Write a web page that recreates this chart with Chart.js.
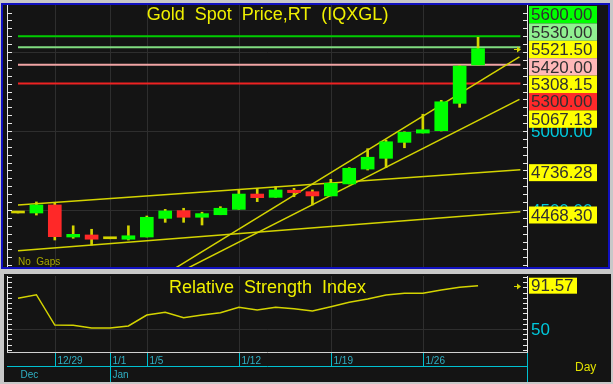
<!DOCTYPE html>
<html>
<head>
<meta charset="utf-8">
<script src="https://cdn.jsdelivr.net/npm/chart.js@4.4.1/dist/chart.umd.min.js"></script>
<style>
  html, body { margin: 0; padding: 0; background: #c8c8c8; }
  #caja { position: relative; width: 613px; height: 384px; overflow: hidden; }
  canvas { position: absolute; left: 0; }
  #precio { top: 0; }
  #rsi { top: 270px; }
</style>
</head>
<body>
<div id="caja">
  <canvas id="precio" width="613" height="270"></canvas>
  <canvas id="rsi" width="613" height="114"></canvas>
</div>
<script>
// datos
const fechas   = ['12/25','12/26','12/29','12/30','12/31','1/1','1/2','1/5','1/6','1/7','1/8','1/9','1/12','1/13','1/14','1/15','1/16','1/19','1/20','1/21','1/22','1/23','1/26','1/27','1/28','1/29'];
const apertura = [4481,4481,4532,4329,4342,4318,4315,4329,4447,4496,4454,4470,4504,4601,4580,4625,4616,4589,4665,4759,4827,4928,4987,5002,5175,5418];
const maximo   = [4481,4551,4544,4400,4378,4318,4400,4462,4504,4511,4486,4521,4630,4637,4648,4637,4627,4694,4768,4888,4943,4995,5106,5194,5415,5593];
const minimo   = [4481,4468,4310,4321,4278,4318,4310,4329,4422,4422,4405,4470,4504,4553,4580,4584,4532,4589,4665,4753,4768,4894,4987,5000,5150,5418];
const cierre   = [4481,4532,4331,4346,4315,4318,4337,4454,4494,4454,4477,4511,4601,4578,4627,4610,4589,4669,4764,4834,4932,4992,5008,5185,5411,5521.5];
const rsiValores = [79.5,82.9,53.8,53.6,51.0,51.0,52.9,63.4,66.0,60.8,63.4,65.6,70.8,68.2,70.8,69.5,67.3,71.4,75.6,78.8,82.6,84.3,84.3,87.4,90.0,91.57];

const fechasEje = ['12/29','1/1','1/5','1/12','1/19','1/26'];
const meses = [['Dec','12/25'], ['Jan','1/1']];
const preciosEje = [5500, 5000, 4500];
const etiquetasPrecioEje = ['5500.00','5000.00','4500.00'];

const niveles = [5600, 5530, 5420, 5300];
const tendencias = [
  [[0, 4532], [27.3, 4755]],
  [[0, 4242], [27.3, 4489]],
  [[8.10, 4100], [27.25, 5469]],
  [[8.68, 4100], [27.25, 5200]]
];
const etiquetasArriba = ['5600.00','5530.00','5521.50','5420.00','5308.15','5300.00','5067.13'];
const valoresLinea = [4736.28, 4468.30];
const rsiEje = [50];

// estilos
const coloresNivel = ['#00cc00','#80dc80','#f0a4a4','#ee2222'];
const coloresArriba = ['#00ff00','#90f090','#ffff00','#ffb8b8','#ffff00','#ff2a2a','#ffff00'];
const AMARILLO = '#d4d400';
const FUENTE = '"Liberation Sans", Arial, sans-serif';

const xMin = -0.543, xMax = 27.66;

function linea(ctx, x1, y1, x2, y2) {
  ctx.beginPath(); ctx.moveTo(x1, y1); ctx.lineTo(x2, y2); ctx.stroke();
}

function marcasEje(ctx, escala, a, paso, largo) {
  ctx.strokeStyle = '#e8e8e8';
  ctx.lineWidth = 1;
  linea(ctx, a.left - 0.5, a.top, a.left - 0.5, a.bottom);
  linea(ctx, a.right + 0.5, a.top, a.right + 0.5, a.bottom);
  let v = Math.ceil(escala.min / paso) * paso;
  for (; v <= escala.max; v += paso) {
    let py = Math.round(escala.getPixelForValue(v)) + 0.5;
    linea(ctx, a.left - 1, py, a.left + largo, py);
    linea(ctx, a.right - largo, py, a.right + 1, py);
  }
}

function flecha(ctx, x, y) {
  ctx.strokeStyle = AMARILLO; ctx.fillStyle = AMARILLO; ctx.lineWidth = 1;
  linea(ctx, x - 7, y + 0.5, x - 2, y + 0.5);
  ctx.beginPath(); ctx.moveTo(x, y + 0.5); ctx.lineTo(x - 4, y - 2.5); ctx.lineTo(x - 4, y + 3.5); ctx.closePath(); ctx.fill();
}

function caja(ctx, texto, fondo, top, ancho, alto) {
  ctx.fillStyle = fondo;
  ctx.fillRect(529, top, ancho, alto);
  ctx.fillStyle = '#303030';
  ctx.font = '17px ' + FUENTE;
  ctx.textAlign = 'left';
  ctx.textBaseline = 'middle';
  ctx.fillText(texto, 531, top + alto / 2 + 1);
}

const marcoPrecio = {
  id: 'marcoPrecio',
  beforeDraw(chart) {
    let ctx = chart.ctx, a = chart.chartArea, x = chart.scales.x, y = chart.scales.y;
    ctx.save();
    ctx.fillStyle = '#c8c8c8'; ctx.fillRect(0, 0, chart.width, chart.height);
    ctx.fillStyle = '#141414'; ctx.fillRect(2, 4, 607, 264);
    ctx.strokeStyle = '#2e2e2e'; ctx.lineWidth = 1;
    fechasEje.forEach(f => {
      let px = Math.round(x.getPixelForValue(fechas.indexOf(f))) + 0.5;
      linea(ctx, px, a.top, px, a.bottom);
    });
    preciosEje.forEach(v => {
      let py = Math.round(y.getPixelForValue(v)) + 0.5;
      linea(ctx, a.left, py, a.right, py);
    });
    ctx.restore();
  },
  afterDraw(chart) {
    let ctx = chart.ctx, a = chart.chartArea, x = chart.scales.x, y = chart.scales.y;
    ctx.save();
    marcasEje(ctx, y, a, 50, 4);

    ctx.font = '18px ' + FUENTE;
    ctx.fillStyle = '#f0f000';
    ctx.textAlign = 'center'; ctx.textBaseline = 'middle';
    ctx.fillText('Gold  Spot  Price,RT  (IQXGL)', (a.left + a.right) / 2, 15);

    ctx.font = '10px ' + FUENTE;
    ctx.fillStyle = '#a8a800';
    ctx.textAlign = 'left';
    ctx.fillText('No  Gaps', 18, a.bottom - 5);

    // etiquetas del eje (tapadas en parte)
    ctx.font = '17px ' + FUENTE;
    ctx.fillStyle = '#00c8dc';
    preciosEje.forEach((v, i) => {
      ctx.fillText(etiquetasPrecioEje[i], 531, y.getPixelForValue(v) + 1);
    });

    etiquetasArriba.forEach((t, i) => {
      caja(ctx, t, coloresArriba[i], a.top + 1 + i * 17.4, 68, 17.4);
    });
    valoresLinea.forEach(v => {
      caja(ctx, v.toFixed(2), '#ffff00', y.getPixelForValue(v) - 8.5, 68, 17);
    });

    flecha(ctx, a.right - 6, Math.round(y.getPixelForValue(cierre[cierre.length - 1])));

    ctx.strokeStyle = '#1010c0'; ctx.lineWidth = 2;
    ctx.strokeRect(2, 4, 607, 264);
    ctx.restore();
  }
};

const marcoRsi = {
  id: 'marcoRsi',
  beforeDraw(chart) {
    let ctx = chart.ctx, a = chart.chartArea, x = chart.scales.x, y = chart.scales.y;
    ctx.save();
    ctx.fillStyle = '#c8c8c8'; ctx.fillRect(0, 0, chart.width, chart.height);
    ctx.fillStyle = '#141414'; ctx.fillRect(4, 4, 607, 108);
    ctx.strokeStyle = '#2e2e2e'; ctx.lineWidth = 1;
    fechasEje.forEach(f => {
      let px = Math.round(x.getPixelForValue(fechas.indexOf(f))) + 0.5;
      linea(ctx, px, a.top, px, a.bottom);
    });
    rsiEje.forEach(v => {
      let py = Math.round(y.getPixelForValue(v)) + 0.5;
      linea(ctx, a.left, py, a.right, py);
    });
    ctx.restore();
  },
  afterDraw(chart) {
    let ctx = chart.ctx, a = chart.chartArea, x = chart.scales.x, y = chart.scales.y;
    ctx.save();
    marcasEje(ctx, y, a, 5, 4);
    ctx.strokeStyle = '#d0d0d0';
    linea(ctx, a.left - 1, a.bottom + 0.5, a.right + 1, a.bottom + 0.5);

    ctx.font = '18px ' + FUENTE;
    ctx.fillStyle = '#f0f000';
    ctx.textAlign = 'center'; ctx.textBaseline = 'middle';
    ctx.fillText('Relative  Strength  Index', (a.left + a.right) / 2, 18);

    ctx.textAlign = 'left';
    ctx.font = '17px ' + FUENTE;
    ctx.fillStyle = '#00c8dc';
    rsiEje.forEach(v => ctx.fillText(String(v), 531, y.getPixelForValue(v) + 1));

    let ultimo = rsiValores[rsiValores.length - 1];
    let py = y.getPixelForValue(ultimo);
    ctx.fillStyle = '#ffff00';
    ctx.fillRect(529, py - 8, 48, 16);
    ctx.fillStyle = '#303030';
    ctx.fillText(ultimo.toFixed(2), 531, py + 1);
    flecha(ctx, a.right - 6, Math.round(py));

    // eje de fechas
    let base = a.bottom + 1, medio = a.bottom + 14;
    ctx.strokeStyle = '#00c0d0'; ctx.lineWidth = 1;
    linea(ctx, a.left - 1, medio + 0.5, a.right + 1, medio + 0.5);
    linea(ctx, a.right + 0.5, base, a.right + 0.5, chart.height - 2);
    ctx.font = '10px ' + FUENTE;
    ctx.fillStyle = '#30b0c4';
    fechasEje.forEach(f => {
      let px = Math.round(x.getPixelForValue(fechas.indexOf(f))) + 0.5;
      let esMes = meses.some(m => m[1] === f);
      linea(ctx, px, base, px, esMes ? chart.height - 2 : medio);
      ctx.fillText(f, px + 2, base + 8);
    });
    meses.forEach(m => {
      let px = Math.round(x.getPixelForValue(fechas.indexOf(m[1]))) + 0.5;
      ctx.fillText(m[0], px + 2, medio + 9);
    });

    ctx.font = '12px ' + FUENTE;
    ctx.fillStyle = '#e0e000';
    ctx.fillText('Day', 575, medio + 2);
    ctx.restore();
  }
};

function dibujarVelas(canvas) {
  let colores = apertura.map((o, i) => cierre[i] > o ? '#00ff00' : (cierre[i] < o ? '#ff2828' : AMARILLO));

  let datasets = [
    {
      type: 'bar',
      data: fechas.map((f, i) => ({ x: i, y: [apertura[i], cierre[i]] })),
      backgroundColor: colores,
      barThickness: 13,
      minBarLength: 2,
      grouped: false,
      order: 0
    },
    {
      type: 'bar',
      data: fechas.map((f, i) => ({ x: i, y: [minimo[i], maximo[i]] })),
      backgroundColor: AMARILLO,
      barThickness: 2,
      grouped: false,
      order: 1
    }
  ];

  tendencias.forEach(t => {
    datasets.push({
      type: 'line',
      data: t.map(p => ({ x: p[0], y: p[1] })),
      borderColor: AMARILLO,
      borderWidth: 1.5,
      pointRadius: 0,
      order: 2
    });
  });

  niveles.forEach((v, i) => {
    datasets.push({
      type: 'line',
      data: [{ x: 0, y: v }, { x: 27.3, y: v }],
      borderColor: coloresNivel[i],
      borderWidth: 2,
      pointRadius: 0,
      order: 3
    });
  });

  return new Chart(canvas, {
    type: 'bar',
    data: { datasets: datasets },
    options: {
      responsive: false,
      animation: false,
      layout: { autoPadding: false, padding: { left: 8, right: 86, top: 5, bottom: 3 } },
      scales: {
        x: { type: 'linear', min: xMin, max: xMax, offset: false, display: false },
        y: { min: 4139.2, max: 5797.5, display: false }
      },
      plugins: { legend: { display: false }, tooltip: { enabled: false } }
    },
    plugins: [marcoPrecio]
  });
}

function dibujarRsi(canvas) {
  return new Chart(canvas, {
    type: 'line',
    data: {
      datasets: [{
        data: rsiValores.map((v, i) => ({ x: i, y: v })),
        borderColor: AMARILLO,
        borderWidth: 1.5,
        pointRadius: 0
      }]
    },
    options: {
      responsive: false,
      animation: false,
      layout: { autoPadding: false, padding: { left: 8, right: 86, top: 6, bottom: 32 } },
      scales: {
        x: { type: 'linear', min: xMin, max: xMax, display: false },
        y: { min: 27.93, max: 100.86, display: false }
      },
      plugins: { legend: { display: false }, tooltip: { enabled: false } }
    },
    plugins: [marcoRsi]
  });
}

dibujarVelas(document.getElementById('precio'));
dibujarRsi(document.getElementById('rsi'));
</script>
</body>
</html>
